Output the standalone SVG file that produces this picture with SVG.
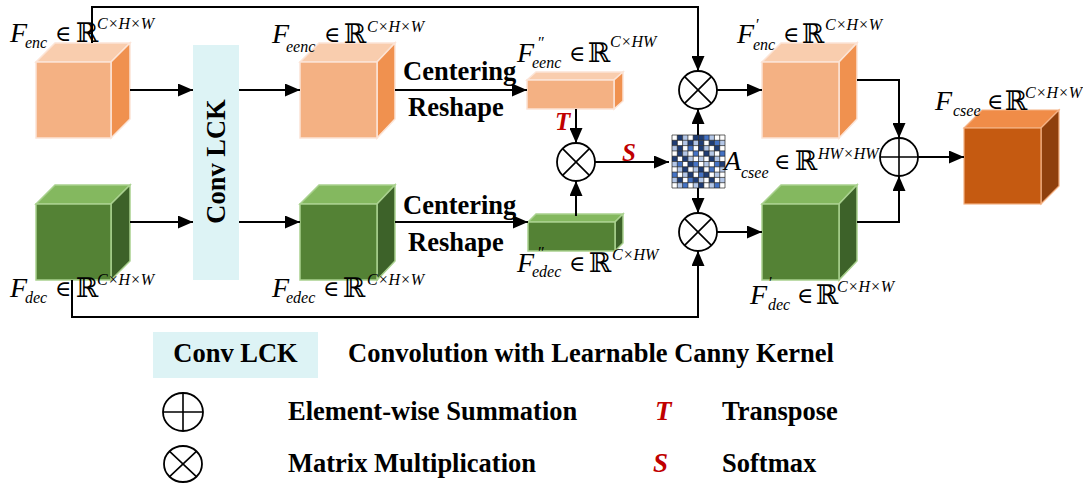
<svg xmlns="http://www.w3.org/2000/svg" width="1083" height="483" viewBox="0 0 1083 483">
<defs>
<marker id="ah" markerWidth="15" markerHeight="13" refX="15" refY="6.5" orient="auto" markerUnits="userSpaceOnUse"><path d="M0,0 L15,6.5 L0,13 z" fill="#000"/></marker>
</defs>
<style>
.bg{fill:#fff}
.of{fill:#F4B183}.ot{fill:#F9CDAE}.os{fill:#F0914F}.oc{stroke:#FCE4D6;stroke-width:1.5}
.gf{fill:#548235}.gt{fill:#84B85F}.gs{fill:#3D6229}.gc{stroke:#A9D18E;stroke-width:1.5}
.cf{fill:#C55A11}.ct{fill:#F08C48}.cs{fill:#8F400D}.cc{stroke:#F4B183;stroke-width:1.2}
.lck{fill:#DDF3F5}
.conn path{fill:none;stroke:#000;stroke-width:2}
.op{fill:#fff;stroke:#000;stroke-width:1.8}
.opl{fill:none;stroke:#000;stroke-width:1.6}
.m{font-family:"Liberation Serif","DejaVu Serif",serif;font-style:italic;fill:#000}
.big{font-size:28px}
.sm{font-size:16px}
.up{font-style:normal;font-size:27px}
.el{font-style:normal;font-size:22px}
.b{font-family:"Liberation Serif","DejaVu Serif",serif;font-weight:bold;font-size:26.5px;fill:#000}
.red{font-family:"Liberation Serif","DejaVu Serif",serif;font-weight:bold;font-style:italic;fill:#C00000}
.d{fill:#1F3C74}.mi{fill:#4472C4}.l{fill:#B4C7E7}
</style>
<rect class="bg" x="0" y="0" width="1083" height="483"/>

<g id="conv-lck">
<rect class="lck" x="193" y="45" width="46" height="235"/>
<text class="b" text-anchor="middle" transform="translate(225,161.5) rotate(-90)">Conv LCK</text>
</g>

<g id="f-enc">
<polygon class="ot oc" points="36,62 55,43 130,43 111,62"/>
<polygon class="os oc" points="111,62 130,43 130,119 111,138"/>
<rect class="of oc" x="36" y="62" width="75" height="76"/>
</g>
<g id="f-dec">
<polygon class="gt gc" points="36,204 55,185 130,185 111,204"/>
<polygon class="gs gc" points="111,204 130,185 130,261 111,280"/>
<rect class="gf gc" x="36" y="204" width="75" height="76"/>
</g>
<g id="f-eenc">
<polygon class="ot oc" points="300,62 319,43 395,43 377,62"/>
<polygon class="os oc" points="377,62 395,43 395,119 377,138"/>
<rect class="of oc" x="300" y="62" width="77" height="76"/>
</g>
<g id="f-edec">
<polygon class="gt gc" points="300,204 319,185 395,185 377,204"/>
<polygon class="gs gc" points="377,204 395,185 395,261 377,280"/>
<rect class="gf gc" x="300" y="204" width="77" height="76"/>
</g>
<g id="f-eenc-flat">
<polygon class="ot oc" points="527,80 536,72 623,72 614,80"/>
<polygon class="os oc" points="614,80 623,72 623,101 614,109"/>
<rect class="of oc" x="527" y="80" width="87" height="29"/>
</g>
<g id="f-edec-flat">
<polygon class="gt gc" points="528,222 536,214 623,214 615,222"/>
<polygon class="gs gc" points="615,222 623,214 623,243 615,251"/>
<rect class="gf gc" x="528" y="222" width="87" height="29"/>
</g>
<g id="f-enc-prime">
<polygon class="ot oc" points="762,62 781,43 857,43 839,62"/>
<polygon class="os oc" points="839,62 857,43 857,119 839,138"/>
<rect class="of oc" x="762" y="62" width="77" height="76"/>
</g>
<g id="f-dec-prime">
<polygon class="gt gc" points="762,204 781,185 857,185 839,204"/>
<polygon class="gs gc" points="839,204 857,185 857,261 839,280"/>
<rect class="gf gc" x="762" y="204" width="77" height="76"/>
</g>
<g id="f-csee">
<polygon class="ct cc" points="964,128 982,110 1059,110 1041,128"/>
<polygon class="cs cc" points="1041,128 1059,110 1059,186 1041,204"/>
<rect class="cf cc" x="964" y="128" width="77" height="76"/>
</g>

<g id="a-csee">
<rect x="672" y="135" width="53" height="53" fill="#fff"/>
<g>
<rect class="d" x="677.3" y="135" width="5.3" height="5.3"/><rect class="l" x="682.6" y="135" width="5.3" height="5.3"/><rect class="d" x="693.2" y="135" width="5.3" height="5.3"/><rect class="d" x="698.5" y="135" width="5.3" height="5.3"/><rect class="mi" x="703.8" y="135" width="5.3" height="5.3"/><rect class="l" x="709.1" y="135" width="5.3" height="5.3"/>
<rect class="d" x="672" y="140.3" width="5.3" height="5.3"/><rect class="l" x="682.6" y="140.3" width="5.3" height="5.3"/><rect class="d" x="687.9" y="140.3" width="5.3" height="5.3"/><rect class="l" x="693.2" y="140.3" width="5.3" height="5.3"/><rect class="d" x="698.5" y="140.3" width="5.3" height="5.3"/><rect class="d" x="709.1" y="140.3" width="5.3" height="5.3"/><rect class="mi" x="714.4" y="140.3" width="5.3" height="5.3"/><rect class="l" x="719.7" y="140.3" width="5.3" height="5.3"/>
<rect class="l" x="672" y="145.6" width="5.3" height="5.3"/><rect class="d" x="677.3" y="145.6" width="5.3" height="5.3"/><rect class="mi" x="687.9" y="145.6" width="5.3" height="5.3"/><rect class="d" x="698.5" y="145.6" width="5.3" height="5.3"/><rect class="l" x="703.8" y="145.6" width="5.3" height="5.3"/><rect class="d" x="714.4" y="145.6" width="5.3" height="5.3"/>
<rect class="d" x="677.3" y="150.9" width="5.3" height="5.3"/><rect class="l" x="682.6" y="150.9" width="5.3" height="5.3"/><rect class="mi" x="693.2" y="150.9" width="5.3" height="5.3"/><rect class="d" x="703.8" y="150.9" width="5.3" height="5.3"/><rect class="l" x="709.1" y="150.9" width="5.3" height="5.3"/><rect class="mi" x="719.7" y="150.9" width="5.3" height="5.3"/>
<rect class="d" x="672" y="156.2" width="5.3" height="5.3"/><rect class="d" x="682.6" y="156.2" width="5.3" height="5.3"/><rect class="l" x="687.9" y="156.2" width="5.3" height="5.3"/><rect class="l" x="698.5" y="156.2" width="5.3" height="5.3"/><rect class="d" x="709.1" y="156.2" width="5.3" height="5.3"/><rect class="l" x="714.4" y="156.2" width="5.3" height="5.3"/>
<rect class="l" x="672" y="161.5" width="5.3" height="5.3"/><rect class="mi" x="677.3" y="161.5" width="5.3" height="5.3"/><rect class="d" x="687.9" y="161.5" width="5.3" height="5.3"/><rect class="mi" x="693.2" y="161.5" width="5.3" height="5.3"/><rect class="l" x="703.8" y="161.5" width="5.3" height="5.3"/><rect class="mi" x="714.4" y="161.5" width="5.3" height="5.3"/><rect class="d" x="719.7" y="161.5" width="5.3" height="5.3"/>
<rect class="l" x="677.3" y="166.8" width="5.3" height="5.3"/><rect class="d" x="682.6" y="166.8" width="5.3" height="5.3"/><rect class="l" x="693.2" y="166.8" width="5.3" height="5.3"/><rect class="d" x="698.5" y="166.8" width="5.3" height="5.3"/><rect class="mi" x="709.1" y="166.8" width="5.3" height="5.3"/><rect class="l" x="719.7" y="166.8" width="5.3" height="5.3"/>
<rect class="mi" x="672" y="172.1" width="5.3" height="5.3"/><rect class="l" x="682.6" y="172.1" width="5.3" height="5.3"/><rect class="d" x="687.9" y="172.1" width="5.3" height="5.3"/><rect class="mi" x="698.5" y="172.1" width="5.3" height="5.3"/><rect class="d" x="703.8" y="172.1" width="5.3" height="5.3"/><rect class="l" x="714.4" y="172.1" width="5.3" height="5.3"/>
<rect class="l" x="672" y="177.4" width="5.3" height="5.3"/><rect class="d" x="677.3" y="177.4" width="5.3" height="5.3"/><rect class="mi" x="687.9" y="177.4" width="5.3" height="5.3"/><rect class="d" x="693.2" y="177.4" width="5.3" height="5.3"/><rect class="l" x="698.5" y="177.4" width="5.3" height="5.3"/><rect class="d" x="709.1" y="177.4" width="5.3" height="5.3"/><rect class="l" x="719.7" y="177.4" width="5.3" height="5.3"/>
<rect class="l" x="677.3" y="182.7" width="5.3" height="5.3"/><rect class="mi" x="682.6" y="182.7" width="5.3" height="5.3"/><rect class="l" x="693.2" y="182.7" width="5.3" height="5.3"/><rect class="d" x="698.5" y="182.7" width="5.3" height="5.3"/><rect class="l" x="709.1" y="182.7" width="5.3" height="5.3"/><rect class="mi" x="714.4" y="182.7" width="5.3" height="5.3"/>
</g>
<path d="M672,135V188M677.3,135V188M682.6,135V188M687.9,135V188M693.2,135V188M698.5,135V188M703.8,135V188M709.1,135V188M714.4,135V188M719.7,135V188M725,135V188M672,135H725M672,140.3H725M672,145.6H725M672,150.9H725M672,156.2H725M672,161.5H725M672,166.8H725M672,172.1H725M672,177.4H725M672,182.7H725M672,188H725" stroke="#222" stroke-width="0.7" fill="none"/>
</g>

<g class="conn" id="connectors">
<path d="M130,90H193" marker-end="url(#ah)"/>
<path d="M130,222H193" marker-end="url(#ah)"/>
<path d="M239,90H300" marker-end="url(#ah)"/>
<path d="M239,222H300" marker-end="url(#ah)"/>
<path d="M395,90H527" marker-end="url(#ah)"/>
<path d="M395,222H528" marker-end="url(#ah)"/>
<path d="M576,109V143" marker-end="url(#ah)"/>
<path d="M576,216V181" marker-end="url(#ah)"/>
<path d="M595,162H669" marker-end="url(#ah)"/>
<path d="M92,43V7H698V71" marker-end="url(#ah)"/>
<path d="M72,280V317H698V251" marker-end="url(#ah)"/>
<path d="M698,135V109" marker-end="url(#ah)"/>
<path d="M698,188V213" marker-end="url(#ah)"/>
<path d="M717,90H762" marker-end="url(#ah)"/>
<path d="M717,232H762" marker-end="url(#ah)"/>
<path d="M857,80H899V138" marker-end="url(#ah)"/>
<path d="M857,222H899V176" marker-end="url(#ah)"/>
<path d="M918,157H964" marker-end="url(#ah)"/>
</g>

<g id="mul-mid">
<circle class="op" cx="576" cy="162" r="19"/>
<path class="opl" d="M562.6,148.6L589.4,175.4M589.4,148.6L562.6,175.4"/>
</g>
<g id="mul-top">
<circle class="op" cx="698" cy="90" r="19"/>
<path class="opl" d="M684.6,76.6L711.4,103.4M711.4,76.6L684.6,103.4"/>
</g>
<g id="mul-bot">
<circle class="op" cx="698" cy="232" r="19"/>
<path class="opl" d="M684.6,218.6L711.4,245.4M711.4,218.6L684.6,245.4"/>
</g>
<g id="sum">
<circle class="op" cx="899" cy="157" r="19"/>
<path class="opl" d="M880,157H918M899,138V176"/>
</g>

<g id="labels">
<text class="m"><tspan class="big" x="10" y="42">F</tspan><tspan class="sm" x="25" y="48">enc</tspan><tspan class="el" x="55" y="41">∈</tspan><tspan class="up" x="76" y="42">ℝ</tspan><tspan class="sm" x="97" y="29">C×H×W</tspan></text>
<text class="m"><tspan class="big" x="10" y="297">F</tspan><tspan class="sm" x="25" y="303">dec</tspan><tspan class="el" x="55" y="296">∈</tspan><tspan class="up" x="76" y="297">ℝ</tspan><tspan class="sm" x="97" y="285">C×H×W</tspan></text>
<text class="m"><tspan class="big" x="272" y="43">F</tspan><tspan class="sm" x="286" y="52">eenc</tspan><tspan class="el" x="324" y="42">∈</tspan><tspan class="up" x="344" y="43">ℝ</tspan><tspan class="sm" x="367" y="32">C×H×W</tspan></text>
<text class="m"><tspan class="big" x="272" y="297">F</tspan><tspan class="sm" x="286" y="303">edec</tspan><tspan class="el" x="323" y="296">∈</tspan><tspan class="up" x="343" y="297">ℝ</tspan><tspan class="sm" x="367" y="285">C×H×W</tspan></text>
<text class="m"><tspan class="big" x="517" y="62">F</tspan><tspan class="sm" x="537" y="48">″</tspan><tspan class="sm" x="532" y="68">eenc</tspan><tspan class="el" x="569" y="61">∈</tspan><tspan class="up" x="588" y="62">ℝ</tspan><tspan class="sm" x="610" y="47">C×HW</tspan></text>
<text class="m"><tspan class="big" x="517" y="272">F</tspan><tspan class="sm" x="537" y="258">″</tspan><tspan class="sm" x="532" y="277">edec</tspan><tspan class="el" x="569" y="271">∈</tspan><tspan class="up" x="589" y="272">ℝ</tspan><tspan class="sm" x="612" y="260">C×HW</tspan></text>
<text class="m"><tspan class="big" x="737" y="43">F</tspan><tspan class="sm" x="755" y="30">′</tspan><tspan class="sm" x="753" y="50">enc</tspan><tspan class="el" x="783" y="42">∈</tspan><tspan class="up" x="802" y="43">ℝ</tspan><tspan class="sm" x="825" y="30">C×H×W</tspan></text>
<text class="m"><tspan class="big" x="750" y="304">F</tspan><tspan class="sm" x="768" y="288">′</tspan><tspan class="sm" x="768" y="310">dec</tspan><tspan class="el" x="797" y="303">∈</tspan><tspan class="up" x="816" y="304">ℝ</tspan><tspan class="sm" x="837" y="292">C×H×W</tspan></text>
<text class="m"><tspan class="big" x="724" y="170">A</tspan><tspan class="sm" x="741" y="178">csee</tspan><tspan class="el" x="774" y="169">∈</tspan><tspan class="up" x="795" y="170">ℝ</tspan><tspan class="sm" x="818" y="159">HW×HW</tspan></text>
<text class="m"><tspan class="big" x="935" y="110">F</tspan><tspan class="sm" x="953" y="116">csee</tspan><tspan class="el" x="987" y="109">∈</tspan><tspan class="up" x="1005" y="110">ℝ</tspan><tspan class="sm" x="1025" y="98">C×H×W</tspan></text>
<text class="b" x="403" y="80">Centering</text>
<text class="b" x="408" y="116">Reshape</text>
<text class="b" x="403" y="214">Centering</text>
<text class="b" x="408" y="251">Reshape</text>
<text class="red" x="555" y="130" font-size="25">T</text>
<text class="red" x="622" y="161" font-size="25">S</text>
</g>

<g id="legend">
<rect class="lck" x="153" y="332" width="165" height="46"/>
<text class="b" x="235.5" y="362" text-anchor="middle">Conv LCK</text>
<text class="b" x="348" y="362">Convolution with Learnable Canny Kernel</text>
<g id="legend-sum">
<ellipse class="op" cx="183" cy="412" rx="20" ry="19" stroke-width="1.5"/>
<path class="opl" d="M163,412H203M183,393V431" stroke-width="1.4"/>
</g>
<g id="legend-mul">
<ellipse class="op" cx="183" cy="464" rx="19" ry="18" stroke-width="1.5"/>
<path class="opl" d="M169.6,451.3L196.4,476.7M196.4,451.3L169.6,476.7" stroke-width="1.4"/>
</g>
<text class="b" x="288" y="420">Element-wise Summation</text>
<text class="b" x="288" y="472">Matrix Multiplication</text>
<text class="red" x="655" y="420" font-size="27">T</text>
<text class="red" x="653" y="472" font-size="27">S</text>
<text class="b" x="722" y="420">Transpose</text>
<text class="b" x="722" y="472">Softmax</text>
</g>
</svg>
